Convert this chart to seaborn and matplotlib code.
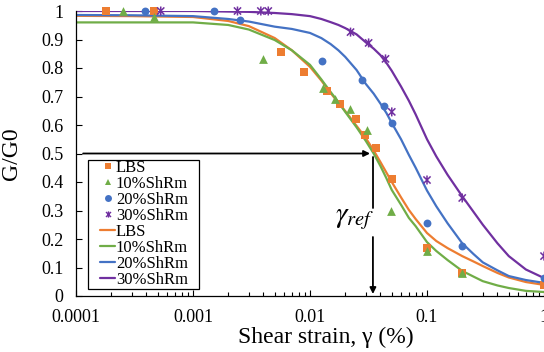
import numpy as np
import pandas as pd
import matplotlib
matplotlib.use("Agg")
import matplotlib.pyplot as plt
import matplotlib.patches as mpatches
import seaborn as sns
from matplotlib.path import Path
from matplotlib.lines import Line2D
from matplotlib.ticker import FixedLocator, LogLocator, NullFormatter, FixedFormatter

# ---------------- data ----------------
series_names = ["LBS", "10%ShRm", "20%ShRm", "30%ShRm"]
series_colors = ["#ED7D31", "#70AD47", "#4472C4", "#7030A0"]

lbs_strain = [0.00018, 0.00046, 0.0057, 0.0088, 0.0139, 0.0182, 0.0245, 0.0298, 0.037, 0.05, 0.1, 0.2, 1.0]
lbs_ratio = [1.0, 1.0, 0.856, 0.786, 0.719, 0.674, 0.621, 0.565, 0.519, 0.41, 0.168, 0.081, 0.039]

s10_strain = [0.00025, 0.00046, 0.004, 0.013, 0.0165, 0.0218, 0.031, 0.0488, 0.1, 0.2]
s10_ratio = [1.0, 0.979, 0.832, 0.73, 0.691, 0.656, 0.582, 0.298, 0.158, 0.081]

s20_strain = [0.00039, 0.0015, 0.0025, 0.0126, 0.0276, 0.0425, 0.05, 0.1, 0.2, 1.0]
s20_ratio = [1.0, 1.0, 0.968, 0.825, 0.758, 0.667, 0.607, 0.256, 0.175, 0.063]

s30_strain = [0.00053, 0.0024, 0.0038, 0.0044, 0.0222, 0.0317, 0.0442, 0.05, 0.1, 0.2, 1.0]
s30_ratio = [1.0, 1.0, 1.0, 1.0, 0.926, 0.888, 0.832, 0.646, 0.407, 0.344, 0.14]

fit_strain = [0.0001, 0.0003, 0.001, 0.002, 0.003, 0.005, 0.007, 0.01, 0.0125, 0.015,
              0.0175, 0.02, 0.025, 0.03, 0.035, 0.04, 0.045, 0.05, 0.06, 0.07,
              0.08, 0.1, 0.12, 0.15, 0.2, 0.25, 0.3, 0.4, 0.5, 0.7, 1.0]
fit_lbs = [0.983, 0.982, 0.979, 0.965, 0.947, 0.905, 0.862, 0.804, 0.756, 0.712,
           0.678, 0.649, 0.597, 0.554, 0.511, 0.47, 0.433, 0.40, 0.346, 0.302,
           0.27, 0.221, 0.193, 0.168, 0.14, 0.121, 0.105, 0.081, 0.065, 0.049, 0.039]
fit_s10 = [0.96, 0.96, 0.96, 0.951, 0.935, 0.898, 0.862, 0.811, 0.76, 0.716,
           0.68, 0.646, 0.592, 0.544, 0.50, 0.456, 0.413, 0.372, 0.32, 0.274,
           0.245, 0.189, 0.158, 0.126, 0.088, 0.068, 0.052, 0.037, 0.028, 0.018, 0.014]
fit_s20 = [0.986, 0.985, 0.982, 0.972, 0.963, 0.945, 0.937, 0.923, 0.905, 0.884,
           0.862, 0.839, 0.793, 0.744, 0.71, 0.675, 0.642, 0.607, 0.55, 0.495,
           0.45, 0.37, 0.315, 0.255, 0.185, 0.147, 0.118, 0.09, 0.07, 0.056, 0.046]
fit_s30 = [1.0, 1.0, 1.0, 0.998, 0.997, 0.993, 0.989, 0.982, 0.972, 0.961,
           0.951, 0.940, 0.918, 0.89, 0.868, 0.845, 0.818, 0.79, 0.735, 0.685,
           0.637, 0.55, 0.49, 0.425, 0.35, 0.295, 0.25, 0.185, 0.14, 0.093, 0.063]

xtick_values = [0.0001, 0.001, 0.01, 0.1, 1]
xtick_labels = ["0.0001", "0.001", "0.01", "0.1", "1"]
ytick_values = [0, 0.1, 0.2, 0.3, 0.4, 0.5, 0.6, 0.7, 0.8, 0.9, 1.0]
ytick_labels = ["0", "0.1", "0.2", "0.3", "0.4", "0.5", "0.6", "0.7", "0.8", "0.9", "1"]

gamma_ref = 0.0345
ratio_ref = 0.5

# ---------------- style ----------------
sns.set_theme(style="ticks")
plt.rcParams["font.family"] = ["Liberation Serif", "DejaVu Serif"]
plt.rcParams["mathtext.fontset"] = "stix"

star = Path([(-1, -1), (1, 1), (-1, 1), (1, -1), (0, -1.25), (0, 1.25)],
            [Path.MOVETO, Path.LINETO, Path.MOVETO, Path.LINETO, Path.MOVETO, Path.LINETO])
markers = ["s", "^", "o", star]
msizes = [38, 40, 32, 42]

fig = plt.figure(figsize=(5.44, 3.52), dpi=100)
ax = fig.add_axes([76 / 544, 56 / 352, 468 / 544, 285 / 352])

scatter_sets = [(lbs_strain, lbs_ratio), (s10_strain, s10_ratio),
                (s20_strain, s20_ratio), (s30_strain, s30_ratio)]
fit_sets = [fit_lbs, fit_s10, fit_s20, fit_s30]

# fitted curves
for name, col, fy in zip(series_names, series_colors, fit_sets):
    df = pd.DataFrame({"strain": fit_strain, "ratio": fy})
    sns.lineplot(data=df, x="strain", y="ratio", color=col, lw=1.6, ax=ax,
                 sort=False, estimator=None, legend=False, zorder=2)

# measured points
for i, (name, col, (sx, sy)) in enumerate(zip(series_names, series_colors, scatter_sets)):
    df = pd.DataFrame({"strain": sx, "ratio": sy})
    if i == 3:
        sns.scatterplot(data=df, x="strain", y="ratio", marker=star, s=msizes[i],
                        facecolor="none", edgecolor=col, linewidth=1.1, ax=ax,
                        legend=False, zorder=3, clip_on=False)
    else:
        sns.scatterplot(data=df, x="strain", y="ratio", marker=markers[i], s=msizes[i],
                        color=col, edgecolor=col, linewidth=0, ax=ax,
                        legend=False, zorder=3, clip_on=False)

ax.set_xscale("log")
ax.set_xlim(1e-4, 1)
ax.set_ylim(0, 1)

ax.xaxis.set_major_locator(FixedLocator(xtick_values))
ax.xaxis.set_major_formatter(FixedFormatter(xtick_labels))
ax.xaxis.set_minor_locator(LogLocator(base=10, subs=np.arange(2, 10)))
ax.xaxis.set_minor_formatter(NullFormatter())
ax.yaxis.set_major_locator(FixedLocator(ytick_values))
ax.yaxis.set_major_formatter(FixedFormatter(ytick_labels))

ax.tick_params(axis="both", which="major", direction="in", length=4.5, width=0.8,
               color="black", labelsize=13, labelcolor="black")
ax.tick_params(axis="x", which="minor", direction="in", length=3, width=0.8, color="black")
ax.tick_params(axis="y", which="major", pad=9)
ax.tick_params(axis="x", which="major", pad=9)

sns.despine(ax=ax)
for s in ["left", "bottom"]:
    ax.spines[s].set_color("black")
    ax.spines[s].set_linewidth(0.9)

ax.set_xlabel("Shear strain, γ (%)", fontsize=17, color="black")
ax.set_ylabel("G/G0", fontsize=17, color="black")
ax.xaxis.set_label_coords((326 - 76) / 468, (296 - 327) / 285)
ax.yaxis.set_label_coords((22 - 76) / 468, 0.5)

# gamma_ref annotation
ax.annotate("", xy=(0.0326, ratio_ref), xytext=(1.15e-4, ratio_ref),
            arrowprops=dict(arrowstyle="-|>", color="black", lw=1.3,
                            shrinkA=0, shrinkB=0, mutation_scale=9))
ax.plot([gamma_ref, gamma_ref], [0.488, 0.31], color="black", lw=1.3)
ax.annotate("", xy=(gamma_ref, 0.007), xytext=(gamma_ref, 0.207),
            arrowprops=dict(arrowstyle="-|>", color="black", lw=1.3,
                            shrinkA=0, shrinkB=0, mutation_scale=9))
ax.text(0.0243, 0.27, r"$\gamma_{ref}$", fontsize=21, ha="center", va="center",
        color="black")

# legend: frame drawn as a rectangle, entries without own frame
frame = mpatches.Rectangle(((88 - 76) / 468, (296 - 289) / 285), 111 / 468, 129 / 285,
                           transform=ax.transAxes, facecolor="white", edgecolor="black",
                           linewidth=0.9, zorder=4, clip_on=False)
ax.add_patch(frame)

handles = []
for i, col in enumerate(series_colors):
    if i == 3:
        handles.append(Line2D([], [], marker=star, color=col, linestyle="none",
                              markersize=4.5, markeredgewidth=1.0, markerfacecolor="none"))
    else:
        handles.append(Line2D([], [], marker=markers[i], color=col, linestyle="none",
                              markersize=5, markeredgewidth=0))
for col in series_colors:
    handles.append(Line2D([], [], color=col, lw=1.6))
labels = series_names + series_names
leg = ax.legend(handles, labels, loc="upper left",
                bbox_to_anchor=((100 - 76) / 468, (296 - 160) / 285),
                borderaxespad=0, fontsize=12, labelspacing=0.0, handlelength=0.9,
                handletextpad=0.05, borderpad=0, frameon=False)
leg.set_zorder(5)
for t in leg.get_texts():
    t.set_color("black")

fig.savefig("out.png", dpi=100)
